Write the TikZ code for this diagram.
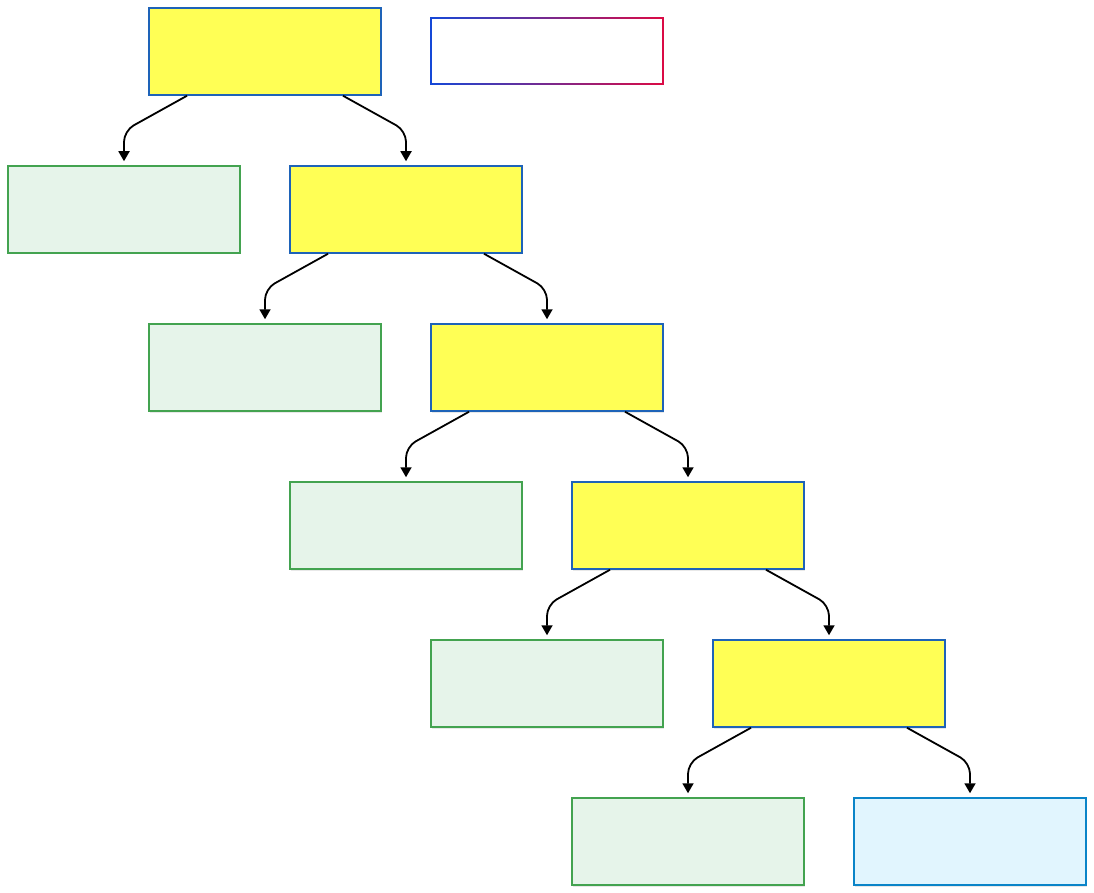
\documentclass[tikz,border=0pt]{standalone}
\usetikzlibrary{arrows.meta,shadows}
\definecolor{ybox}{HTML}{FFFF55}
\definecolor{yborder}{HTML}{1E63B8}
\definecolor{gbox}{HTML}{E6F4EA}
\definecolor{gborder}{HTML}{43A350}
\definecolor{bbox}{HTML}{E1F5FE}
\definecolor{bborder}{HTML}{0A84C8}
\definecolor{lgleft}{HTML}{1448D8}
\definecolor{lgright}{HTML}{DC0A44}
\begin{document}
\begin{tikzpicture}[x=1pt,y=-1pt,
  boxbase/.style={rectangle, minimum width=232pt, minimum height=87pt, line width=1.5pt, inner sep=0pt,
    drop shadow={opacity=0.18, shadow xshift=1pt, shadow yshift=-1.5pt}},
  ynode/.style={boxbase, fill=ybox, draw=yborder},
  gnode/.style={boxbase, fill=gbox, draw=gborder},
  bnode/.style={boxbase, fill=bbox, draw=bborder},
  conn/.style={line width=1.8pt, rounded corners=11pt, -{Triangle[length=10pt,width=11pt]}}]
\useasboundingbox (0,0) rectangle (1094,893);
\node[ynode] (y1) at (265,51.5) {};
\node[gnode] (g1) at (124,209.5) {};
\node[ynode] (y2) at (406,209.5) {};
\node[gnode] (g2) at (265,367.5) {};
\node[ynode] (y3) at (547,367.5) {};
\node[gnode] (g3) at (406,525.5) {};
\node[ynode] (y4) at (688,525.5) {};
\node[gnode] (g4) at (547,683.5) {};
\node[ynode] (y5) at (829,683.5) {};
\node[gnode] (g5) at (688,841.5) {};
\node[bnode] (b1) at (970,841.5) {};
% legend box with gradient border
\node[rectangle, minimum width=233.5pt, minimum height=67.5pt, inner sep=0pt] (lg) at (547,51) {};
\shade[left color=lgleft, right color=lgright] (lg.south west) rectangle (lg.north east);
\fill[white] ([xshift=1.5pt,yshift=1.5pt]lg.south west) rectangle ([xshift=-1.5pt,yshift=-1.5pt]lg.north east);
% connectors
\foreach \p/\l/\r in {y1/g1/y2, y2/g2/y3, y3/g3/y4, y4/g4/y5, y5/g5/b1}{
  \draw[conn] ([xshift=-78pt]\p.south) -- ([yshift=-35pt]\l.north |- \p.south) -- ([yshift=4pt]\l.north);
  \draw[conn] ([xshift=78pt]\p.south) -- ([yshift=-35pt]\r.north |- \p.south) -- ([yshift=4pt]\r.north);
}
\end{tikzpicture}
\end{document}
